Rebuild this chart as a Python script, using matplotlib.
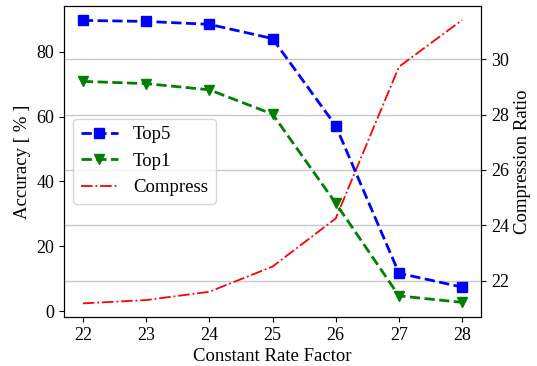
import matplotlib
matplotlib.use('Agg')
import matplotlib.pyplot as plt

plt.rcParams['font.family'] = ['Liberation Serif', 'DejaVu Serif']
plt.rcParams['font.size'] = 13.5
plt.rcParams['xtick.labelsize'] = 13
plt.rcParams['ytick.labelsize'] = 13

# data
crf = [22, 23, 24, 25, 26, 27, 28]
top5 = [89.7, 89.4, 88.5, 84.1, 57.2, 11.7, 7.4]
top1 = [70.9, 70.2, 68.3, 60.8, 33.3, 4.7, 2.7]
compress = [21.18, 21.30, 21.60, 22.51, 24.25, 29.73, 31.42]

fig = plt.figure(figsize=(5.37, 3.66), dpi=100)
ax1 = fig.add_axes([0.119, 0.134, 0.777, 0.850])
ax2 = ax1.twinx()

l1, = ax1.plot(crf, top5, color='blue', linestyle='--', linewidth=2, marker='s', markersize=7, label='Top5')
l2, = ax1.plot(crf, top1, color='green', linestyle='--', linewidth=2, marker='v', markersize=7, label='Top1')
l3, = ax2.plot(crf, compress, color='red', linestyle='-.', linewidth=1.3, label='Compress')

ax1.set_xlim(21.7, 28.3)
ax1.set_ylim(-1.8, 94.2)
ax2.set_ylim(20.69, 31.93)
ax1.set_xticks(crf)
ax1.set_yticks([0, 20, 40, 60, 80])
ax2.set_yticks([22, 24, 26, 28, 30])
ax2.grid(axis='y', color='#c8c8c8', linewidth=1)
ax2.set_axisbelow(True)
ax1.set_zorder(ax2.get_zorder() + 1)
ax1.patch.set_visible(False)

ax1.set_xlabel('Constant Rate Factor', labelpad=3)
ax1.set_ylabel('Accuracy [ % ]')
ax2.set_ylabel('Compression Ratio')

ax1.legend(handles=[l1, l2, l3], loc='upper left', bbox_to_anchor=(0.022, 0.637),
           borderaxespad=0, fontsize=13.5)

fig.savefig('out.png', dpi=100)
